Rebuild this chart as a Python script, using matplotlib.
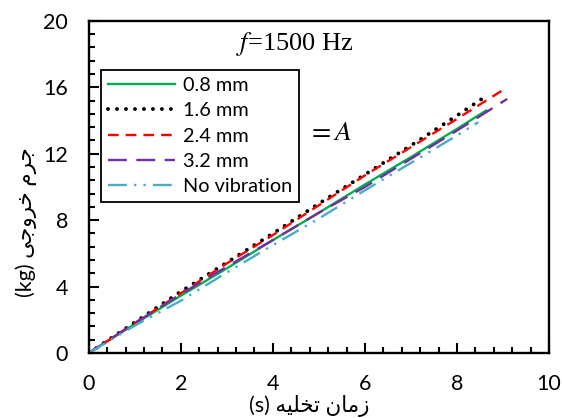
import numpy as np
import matplotlib
matplotlib.use("Agg")
import matplotlib.pyplot as plt

plt.rcParams['font.family'] = ['Lato', 'DejaVu Sans']
plt.rcParams['mathtext.fontset'] = 'stix'

# data
x_08 = [0, 1, 2, 3, 4, 5, 6, 7, 8, 8.63]
y_08 = [0, 1.75, 3.45, 5.1, 6.8, 8.45, 10.15, 11.8, 13.5, 14.6]
x_16 = [0, 1, 2, 3, 4, 5, 6, 7, 8, 8.57]
y_16 = [0, 1.85, 3.7, 5.45, 7.2, 9.0, 10.75, 12.5, 14.3, 15.36]
x_24 = [0, 1, 2, 3, 4, 5, 6, 7, 8, 9.09]
y_24 = [0, 1.8, 3.6, 5.4, 7.1, 8.9, 10.7, 12.4, 14.1, 16.0]
x_32 = [0, 1, 2, 3, 4, 5, 6, 7, 8, 9.09]
y_32 = [0, 1.8, 3.55, 5.2, 6.8, 8.45, 10.0, 11.7, 13.4, 15.3]
x_nv = [0, 1, 2, 3, 4, 5, 6, 7, 8, 8.46]
y_nv = [0, 1.65, 3.15, 4.85, 6.5, 8.1, 9.8, 11.45, 13.1, 13.9]

labels = ['0.8 mm', '1.6 mm', '2.4 mm', '3.2 mm', 'No vibration']

# arabic text, presentation forms in visual order
xlabel = '(s) ' + '\ufeea\ufef4\ufee0\ufea8\ufe97' + ' ' + '\ufee5\ufe8e\ufee3\ufeaf'
ylabel = '(kg) ' + '\ufef0\ufe9f\ufeed\ufeae\ufea7' + ' ' + '\ufee1\ufeae\ufe9f'

fig = plt.figure(figsize=(5.62, 4.18), dpi=100)
ax = fig.add_axes([0.158, 0.1555, 0.819, 0.7945])

ax.plot(x_08, y_08, color='#00B050', lw=1.7, label=labels[0])
ax.plot(x_16, y_16, color='black', lw=2.8, dashes=(0.01, 2.3),
        dash_capstyle='round', label=labels[1])
ax.plot(x_24, y_24, color='#FF0000', lw=1.7, dashes=(4.5, 3), label=labels[2])
ax.plot(x_32, y_32, color='#7030A0', lw=1.7, dashes=(8, 4), label=labels[3])
ax.plot(x_nv, y_nv, color='#4BACC6', lw=1.7, dashes=(8, 3, 1, 3, 1, 3), label=labels[4])

ax.set_xlim(0, 10)
ax.set_ylim(0, 20)
ax.set_xticks([0, 2, 4, 6, 8, 10])
ax.set_yticks([0, 4, 8, 12, 16, 20])
ax.set_xticks(np.arange(0, 10.01, 0.4), minor=True)
ax.set_yticks(np.arange(0, 20.01, 0.8), minor=True)
ax.tick_params(which='major', direction='in', length=7, width=1.5, labelsize=15.5, pad=15)
ax.tick_params(which='minor', direction='in', length=4, width=1.5)
for s in ax.spines.values():
    s.set_linewidth(1.7)

ax.set_xlabel(xlabel, fontsize=15.5)
ax.set_ylabel(ylabel, fontsize=15.5)
ax.xaxis.set_label_coords(0.48, -0.125)
ax.yaxis.set_label_coords(-0.112, 0.395)

ax.text(0.447, 0.93, '$f$=1500 Hz', transform=ax.transAxes, fontsize=19,
        family='Liberation Serif', ha='center', va='center')
ax.text(0.474, 0.666, '$=A$', transform=ax.transAxes, fontsize=20,
        ha='left', va='center')

leg = ax.legend(loc='upper left', bbox_to_anchor=(0.026, 0.852), borderaxespad=0,
                fontsize=14.3, handlelength=3.4, handletextpad=0.4, fancybox=False,
                framealpha=1, edgecolor='black', labelspacing=0.42, borderpad=0.35)
leg.get_frame().set_linewidth(1.3)

fig.savefig('out.png', dpi=100)
